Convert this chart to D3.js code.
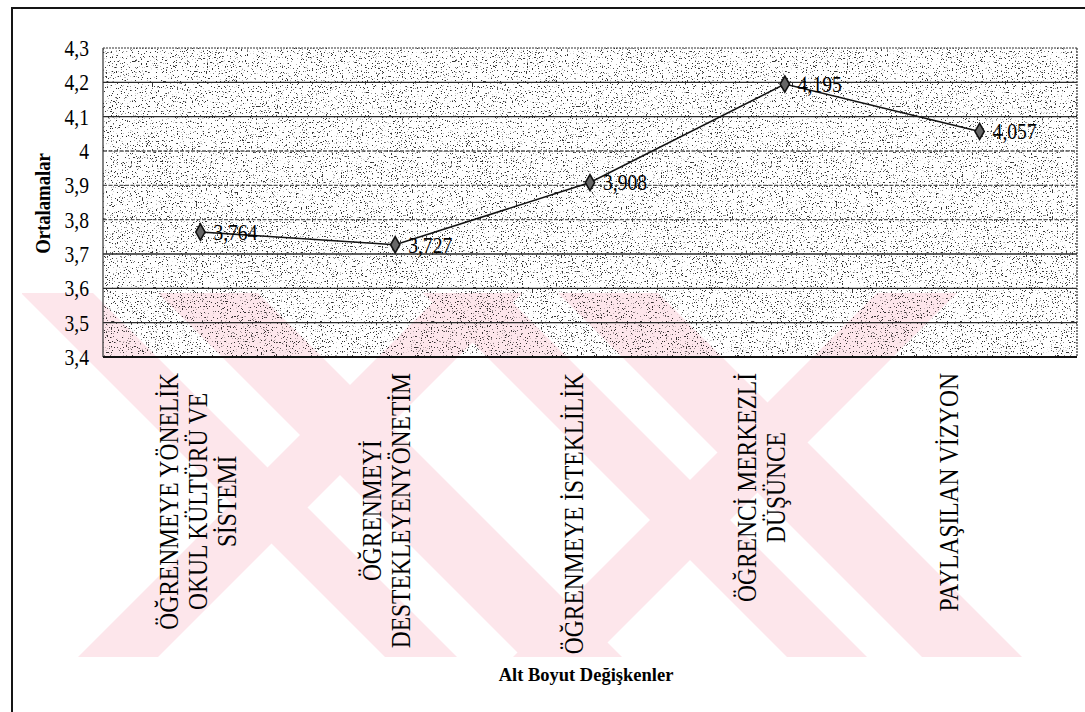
<!DOCTYPE html>
<html>
<head>
<meta charset="utf-8">
<script src="https://cdn.jsdelivr.net/npm/d3@7"></script>
<style>
  html, body { margin: 0; padding: 0; background: #fff; }
  svg { display: block; }
  text { font-family: "Liberation Serif", "Times New Roman", serif; fill: #000; }
</style>
</head>
<body>
<svg id="chart" width="1085" height="712" font-family="Liberation Serif"></svg>
<script>
// Sub-dimension means
const categories = [
  "ÖĞRENMEYE YÖNELİK OKUL KÜLTÜRÜ VE SİSTEMİ",
  "ÖĞRENMEYİ DESTEKLEYENYÖNETİM",
  "ÖĞRENMEYE İSTEKLİLİK",
  "ÖĞRENCİ MERKEZLİ DÜŞÜNCE",
  "PAYLAŞILAN VİZYON"
];
const categoryLines = [
  ["ÖĞRENMEYE YÖNELİK", "OKUL KÜLTÜRÜ VE", "SİSTEMİ"],
  ["ÖĞRENMEYİ", "DESTEKLEYENYÖNETİM"],
  ["ÖĞRENMEYE İSTEKLİLİK"],
  ["ÖĞRENCİ MERKEZLİ", "DÜŞÜNCE"],
  ["PAYLAŞILAN VİZYON"]
];
const means = [3.764, 3.727, 3.908, 4.195, 4.057];
const yTicks = [3.4, 3.5, 3.6, 3.7, 3.8, 3.9, 4.0, 4.1, 4.2, 4.3];
const yTitle = "Ortalamalar";
const xTitle = "Alt Boyut Değişkenler";

const svg = d3.select("#chart");
const W = 1085, H = 712;
const plot = { left: 103, right: 1077, top: 48, bottom: 357 };
const squeeze = 0.87; // narrow face of the printed type

const trLocale = d3.formatLocale({ decimal: ",", thousands: ".", grouping: [3], currency: ["", " TL"] });
const fmtTick = v => trLocale.format("~r")(+v.toFixed(1));
const fmtVal = trLocale.format(".3f");

const x = d3.scalePoint().domain(categories).range([plot.left, plot.right]).padding(0.5);
const y = d3.scaleLinear().domain([3.4, 4.3]).range([plot.bottom, plot.top]);
// category captions sit on a slightly tighter spacing than the points
const xLabel = d3.scalePoint().domain(categories).range([plot.left + 95, plot.right - 128]);

const defs = svg.append("defs");

// grainy grey fill of the plot area
const f = defs.append("filter").attr("id", "stipple")
  .attr("x", 0).attr("y", 0).attr("width", "100%").attr("height", "100%");
f.append("feTurbulence").attr("type", "fractalNoise").attr("baseFrequency", 0.8)
  .attr("numOctaves", 2).attr("seed", 11).attr("result", "n");
f.append("feColorMatrix").attr("type", "matrix")
  .attr("values", "0 0 0 0 0  0 0 0 0 0  0 0 0 0 0  1 0 0 0 0");
f.append("feComponentTransfer")
  .append("feFuncA").attr("type", "linear").attr("slope", 14).attr("intercept", -8.9);

// pale watermark band pattern below the plot
const mark = { top: 293, bottom: 657, left: 22, right: 1040 };
defs.append("clipPath").attr("id", "markClip").append("rect")
  .attr("x", mark.left).attr("y", mark.top)
  .attr("width", mark.right - mark.left).attr("height", mark.bottom - mark.top);
// "\" bands given by x - y range, "/" bands by x + y range
const backBands = [[-272, -200], [-135, -35], [130, 210], [265, 365]];
const fwdBands = [[735, 815], [1170, 1250]];
const wm = svg.append("g").attr("clip-path", "url(#markClip)").attr("fill", "#fde6eb");
const yA = mark.top - 5, yB = mark.bottom + 5;
wm.selectAll("path.back").data(backBands).join("path").attr("class", "back")
  .attr("d", ([a, b]) => `M${a + yA},${yA} L${b + yA},${yA} L${b + yB},${yB} L${a + yB},${yB}Z`);
wm.selectAll("path.fwd").data(fwdBands).join("path").attr("class", "fwd")
  .attr("d", ([a, b]) => `M${a - yA},${yA} L${b - yA},${yA} L${b - yB},${yB} L${a - yB},${yB}Z`);

// outer frame
svg.append("path")
  .attr("d", `M12,${H} L12,8 L${W},8`)
  .attr("fill", "none").attr("stroke", "#151515").attr("stroke-width", 2);

// plot background texture
svg.append("rect")
  .attr("x", plot.left).attr("y", plot.top)
  .attr("width", plot.right - plot.left).attr("height", plot.bottom - plot.top)
  .attr("fill", "#000").attr("filter", "url(#stipple)").attr("opacity", 0.8);

// horizontal gridlines
svg.append("g").selectAll("line")
  .data(yTicks.filter(t => t > 3.4 && t < 4.3))
  .join("line")
  .attr("x1", plot.left).attr("x2", plot.right)
  .attr("y1", d => y(d)).attr("y2", d => y(d))
  .attr("stroke", d => (d > 3.75 && d < 4.05) ? "#555" : "#2a2a2a")
  .attr("stroke-dasharray", d => (d > 3.75 && d < 4.05) ? "4,1.5" : null)
  .attr("stroke-width", 1.3);

// plot border
svg.append("line").attr("x1", plot.left).attr("x2", plot.right)
  .attr("y1", plot.top).attr("y2", plot.top)
  .attr("stroke", "#333").attr("stroke-width", 1.2).attr("stroke-dasharray", "2,1");
svg.append("line").attr("x1", plot.right).attr("x2", plot.right)
  .attr("y1", plot.top).attr("y2", plot.bottom)
  .attr("stroke", "#333").attr("stroke-width", 1.2).attr("stroke-dasharray", "2,1");
svg.append("line").attr("x1", plot.left).attr("x2", plot.left)
  .attr("y1", plot.top).attr("y2", plot.bottom)
  .attr("stroke", "#333").attr("stroke-width", 1.2);
svg.append("line").attr("x1", plot.left).attr("x2", plot.right)
  .attr("y1", plot.bottom).attr("y2", plot.bottom)
  .attr("stroke", "#111").attr("stroke-width", 2);

// y axis labels
svg.append("g").selectAll("text")
  .data(yTicks).join("text")
  .attr("transform", d => `translate(89,${y(d)}) scale(${squeeze},1)`)
  .attr("dy", "0.35em")
  .attr("text-anchor", "end").attr("font-size", 22.5)
  .text(d => fmtTick(d));

// y axis title
svg.append("text")
  .attr("transform", `translate(50,${(plot.top + plot.bottom) / 2 + 1}) rotate(-90) scale(${squeeze},1)`)
  .attr("text-anchor", "middle").attr("font-size", 21.5).attr("font-weight", "bold")
  .text(yTitle);

// category labels, rotated, longest line ending just under the axis
const labelTop = plot.bottom + 16;
categories.forEach((c, i) => {
  const lines = categoryLines[i];
  const g = svg.append("g");
  const inner = g.append("g");
  const lh = 29;
  const ts = inner.selectAll("text").data(lines).join("text")
    .attr("text-anchor", "middle").attr("font-size", 27)
    .attr("x", 0)
    .attr("y", (d, k) => (k - (lines.length - 1) / 2) * lh)
    .attr("dy", "0.35em")
    .text(d => d);
  let maxLen = 0;
  ts.each(function () { maxLen = Math.max(maxLen, this.getComputedTextLength()); });
  ts.attr("x", -maxLen / 2);
  inner.attr("transform", `scale(${squeeze},1)`);
  g.attr("transform", `translate(${xLabel(c)},${labelTop}) rotate(-90)`);
});

// x axis title
svg.append("text")
  .attr("x", (plot.left + plot.right) / 2 - 4).attr("y", 681)
  .attr("text-anchor", "middle").attr("font-size", 18.5).attr("font-weight", "bold")
  .text(xTitle);

// line
const line = d3.line().x((d, i) => x(categories[i])).y(d => y(d));
svg.append("path").datum(means)
  .attr("d", line).attr("fill", "none")
  .attr("stroke", "#111").attr("stroke-width", 1.6);

// diamond markers
const diamond = d3.symbol().type(d3.symbolDiamond).size(75);
svg.append("g").selectAll("path")
  .data(means).join("path")
  .attr("transform", (d, i) => `translate(${x(categories[i])},${y(d)})`)
  .attr("d", diamond)
  .attr("fill", "#666").attr("stroke", "#111").attr("stroke-width", 1.6);

// value labels
svg.append("g").selectAll("text")
  .data(means).join("text")
  .attr("transform", (d, i) => `translate(${x(categories[i]) + 13},${y(d)}) scale(${squeeze},1)`)
  .attr("dy", "0.35em")
  .attr("font-size", 22.5)
  .text(d => fmtVal(d));
</script>
</body>
</html>
